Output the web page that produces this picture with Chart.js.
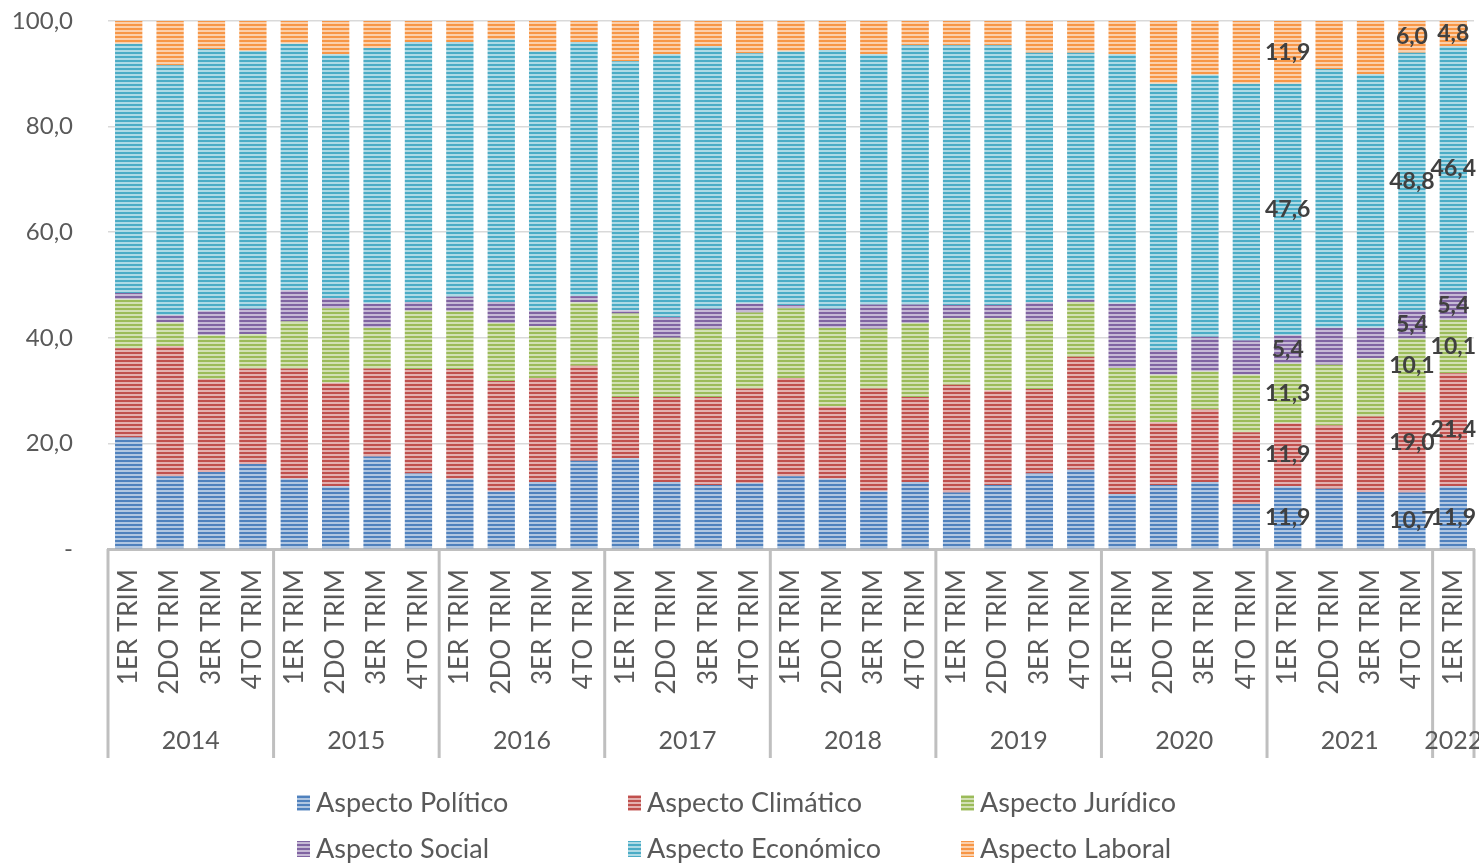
<!DOCTYPE html>
<html>
<head>
<meta charset="utf-8">
<script src="https://cdn.jsdelivr.net/npm/chart.js@4.4.1/dist/chart.umd.min.js"></script>
<style>
  html, body { margin: 0; padding: 0; background: #ffffff; }
  #wrap { width: 1479px; height: 865px; }
</style>
</head>
<body>
<div id="wrap"><canvas id="chart" width="1479" height="865"></canvas></div>
<script>
// --- data ---
var quarters = ['1ER TRIM', '2DO TRIM', '3ER TRIM', '4TO TRIM'];
var years = ['2014', '2015', '2016', '2017', '2018', '2019', '2020', '2021', '2022'];
var quartersPerYear = [4, 4, 4, 4, 4, 4, 4, 4, 1];
var yTicks = [0, 20, 40, 60, 80, 100];

var politico  = [21.1, 13.8, 14.6, 16.1, 13.3, 11.9, 17.5, 14.3, 13.3, 10.9, 12.7, 16.7, 17.2, 12.7, 12.1, 12.5, 13.8, 13.3, 10.9, 12.7, 10.7, 12.1, 14.3, 15.0, 10.4, 12.1, 12.7, 8.5, 11.9, 11.4, 10.8, 10.7, 11.9];
var climatico = [16.9, 24.6, 17.6, 18.1, 20.9, 19.6, 16.7, 19.8, 20.8, 20.9, 19.7, 18.0, 11.6, 16.1, 16.7, 17.9, 18.6, 13.7, 19.5, 16.1, 20.4, 17.9, 16.0, 21.4, 13.9, 11.9, 13.7, 13.6, 11.9, 12.0, 14.3, 19.0, 21.4];
var juridico  = [9.3, 4.5, 8.3, 6.5, 8.9, 14.1, 7.7, 11.0, 10.9, 11.0, 9.8, 12.0, 15.8, 11.2, 12.9, 14.4, 13.2, 14.9, 11.3, 14.0, 12.6, 13.7, 12.8, 10.4, 10.0, 9.0, 7.2, 10.9, 11.3, 11.5, 11.0, 10.1, 10.1];
var social    = [1.2, 1.4, 4.6, 4.8, 5.9, 1.9, 4.6, 1.7, 2.8, 4.0, 2.9, 1.2, 0.6, 3.9, 3.8, 1.7, 0.6, 3.6, 4.6, 3.5, 2.5, 2.5, 3.6, 0.5, 12.2, 4.7, 6.6, 6.5, 5.4, 7.0, 5.8, 5.4, 5.4];
var economico = [47.2, 47.3, 49.6, 48.8, 46.7, 46.2, 48.4, 49.2, 48.2, 49.7, 49.1, 48.1, 47.2, 49.8, 49.7, 47.4, 48.0, 49.0, 47.4, 49.1, 49.2, 49.2, 47.3, 46.7, 47.2, 50.4, 49.6, 48.6, 47.6, 49.0, 48.0, 48.8, 46.4];
var laboral   = [4.3, 8.4, 5.3, 5.7, 4.3, 6.3, 5.1, 4.0, 4.0, 3.5, 5.8, 4.0, 7.6, 6.3, 4.8, 6.1, 5.8, 5.5, 6.3, 4.6, 4.6, 4.6, 6.0, 6.0, 6.3, 11.9, 10.2, 11.9, 11.9, 9.1, 10.1, 6.0, 4.8];

// bars that carry value labels (2021 1ER, 2021 4TO, 2022 1ER)
var labelledBars = [28, 31, 32];

var labels = [];
years.forEach(function (y, i) {
    for (var q = 0; q < quartersPerYear[i]; q++) labels.push(quarters[q]);
});

// --- striped fills ---
function stripe(color) {
    var c = document.createElement('canvas');
    c.width = 4; c.height = 4;
    var g = c.getContext('2d');
    g.fillStyle = '#ffffff';
    g.fillRect(0, 0, 4, 4);
    g.fillStyle = color;
    g.fillRect(0, 0, 4, 2);
    g.globalAlpha = 0.45;
    g.fillRect(0, 2, 4, 2);
    return g.createPattern(c, 'repeat');
}

var series = [
    { label: 'Aspecto Político',  data: politico,  color: '#4F81BD' },
    { label: 'Aspecto Climático', data: climatico, color: '#C0504D' },
    { label: 'Aspecto Jurídico',  data: juridico,  color: '#9BBB59' },
    { label: 'Aspecto Social',    data: social,    color: '#8064A2' },
    { label: 'Aspecto Económico', data: economico, color: '#4BACC6' },
    { label: 'Aspecto Laboral',   data: laboral,   color: '#F79646' }
];

var FONT = 'Lato, "Open Sans", sans-serif';
var TEXT = '#595959';

function fmt(v) {
    return v.toFixed(1).replace('.', ',');
}

// value labels in the middle of the segments
var valueLabels = {
    id: 'valueLabels',
    afterDatasetsDraw: function (chart) {
        var ctx = chart.ctx;
        ctx.save();
        ctx.font = 'bold 23px ' + FONT;
        ctx.fillStyle = '#404040';
        ctx.textAlign = 'center';
        ctx.textBaseline = 'middle';
        chart.data.datasets.forEach(function (ds, di) {
            var meta = chart.getDatasetMeta(di);
            labelledBars.forEach(function (i) {
                var bar = meta.data[i];
                ctx.fillText(fmt(ds.data[i]), bar.x, (bar.y + bar.base) / 2);
            });
        });
        ctx.restore();
    }
};

// year groups under the quarter labels + legend grid
var yearGroups = {
    id: 'yearGroups',
    afterDraw: function (chart) {
        var ctx = chart.ctx;
        var x = chart.scales.x;
        var half = (x.getPixelForValue(1) - x.getPixelForValue(0)) / 2;
        var top = chart.chartArea.bottom;
        var bottom = top + 209;
        ctx.save();
        ctx.strokeStyle = '#bfbfbf';
        ctx.lineWidth = 3;
        var idx = 0;
        ctx.font = '25px ' + FONT;
        ctx.fillStyle = TEXT;
        ctx.textAlign = 'center';
        ctx.textBaseline = 'middle';
        years.forEach(function (y, i) {
            var left = x.getPixelForValue(idx) - half;
            var right = x.getPixelForValue(idx + quartersPerYear[i] - 1) + half;
            ctx.beginPath();
            ctx.moveTo(left, top);
            ctx.lineTo(left, bottom);
            ctx.stroke();
            if (i == years.length - 1) {
                ctx.beginPath();
                ctx.moveTo(right, top);
                ctx.lineTo(right, bottom);
                ctx.stroke();
            }
            ctx.fillText(y, (left + right) / 2, top + 192);
            idx += quartersPerYear[i];
        });

        // legend, 3 columns x 2 rows
        var colX = [297, 628, 961];
        var rowY = [803, 849];
        ctx.textAlign = 'left';
        ctx.font = '27px ' + FONT;
        chart.data.datasets.forEach(function (ds, di) {
            var cx = colX[di % 3];
            var cy = rowY[Math.floor(di / 3)];
            ctx.fillStyle = ds.backgroundColor;
            ctx.fillRect(cx, cy - 8, 13, 16);
            ctx.fillStyle = TEXT;
            ctx.fillText(ds.label, cx + 19, cy);
        });
        ctx.restore();
    }
};

var ctx = document.getElementById('chart').getContext('2d');
var chart = new Chart(ctx, {
    type: 'bar',
    data: {
        labels: labels,
        datasets: series.map(function (s) {
            return {
                label: s.label,
                data: s.data,
                backgroundColor: stripe(s.color),
                borderWidth: 0,
                barPercentage: 0.66,
                categoryPercentage: 1
            };
        })
    },
    options: {
        responsive: false,
        animation: false,
        layout: { padding: { top: 21, right: 5, left: 0, bottom: 106 } },
        plugins: {
            legend: { display: false },
            tooltip: { enabled: false }
        },
        scales: {
            x: {
                stacked: true,
                grid: { display: false, drawTicks: false },
                border: { display: true, color: '#bfbfbf', width: 3 },
                ticks: {
                    autoSkip: false,
                    minRotation: 90,
                    maxRotation: 90,
                    padding: 20,
                    color: TEXT,
                    font: { family: FONT, size: 26 }
                },
                afterFit: function (scale) {
                    scale.height = 210;
                    scale.paddingLeft = 0;
                    scale.paddingRight = 0;
                }
            },
            y: {
                stacked: true,
                min: 0,
                max: 100,
                afterBuildTicks: function (scale) {
                    scale.ticks = yTicks.map(function (v) { return { value: v }; });
                },
                grid: { color: '#d9d9d9', lineWidth: 1.5, drawTicks: false },
                border: { display: false },
                ticks: {
                    padding: 35,
                    color: TEXT,
                    font: { family: FONT, size: 24 },
                    callback: function (v) { return v === 0 ? '-' : fmt(v); }
                },
                afterFit: function (scale) {
                    scale.width = 108;
                    scale.paddingTop = 0;
                    scale.paddingBottom = 0;
                }
            }
        }
    },
    plugins: [valueLabels, yearGroups]
});
</script>
</body>
</html>
